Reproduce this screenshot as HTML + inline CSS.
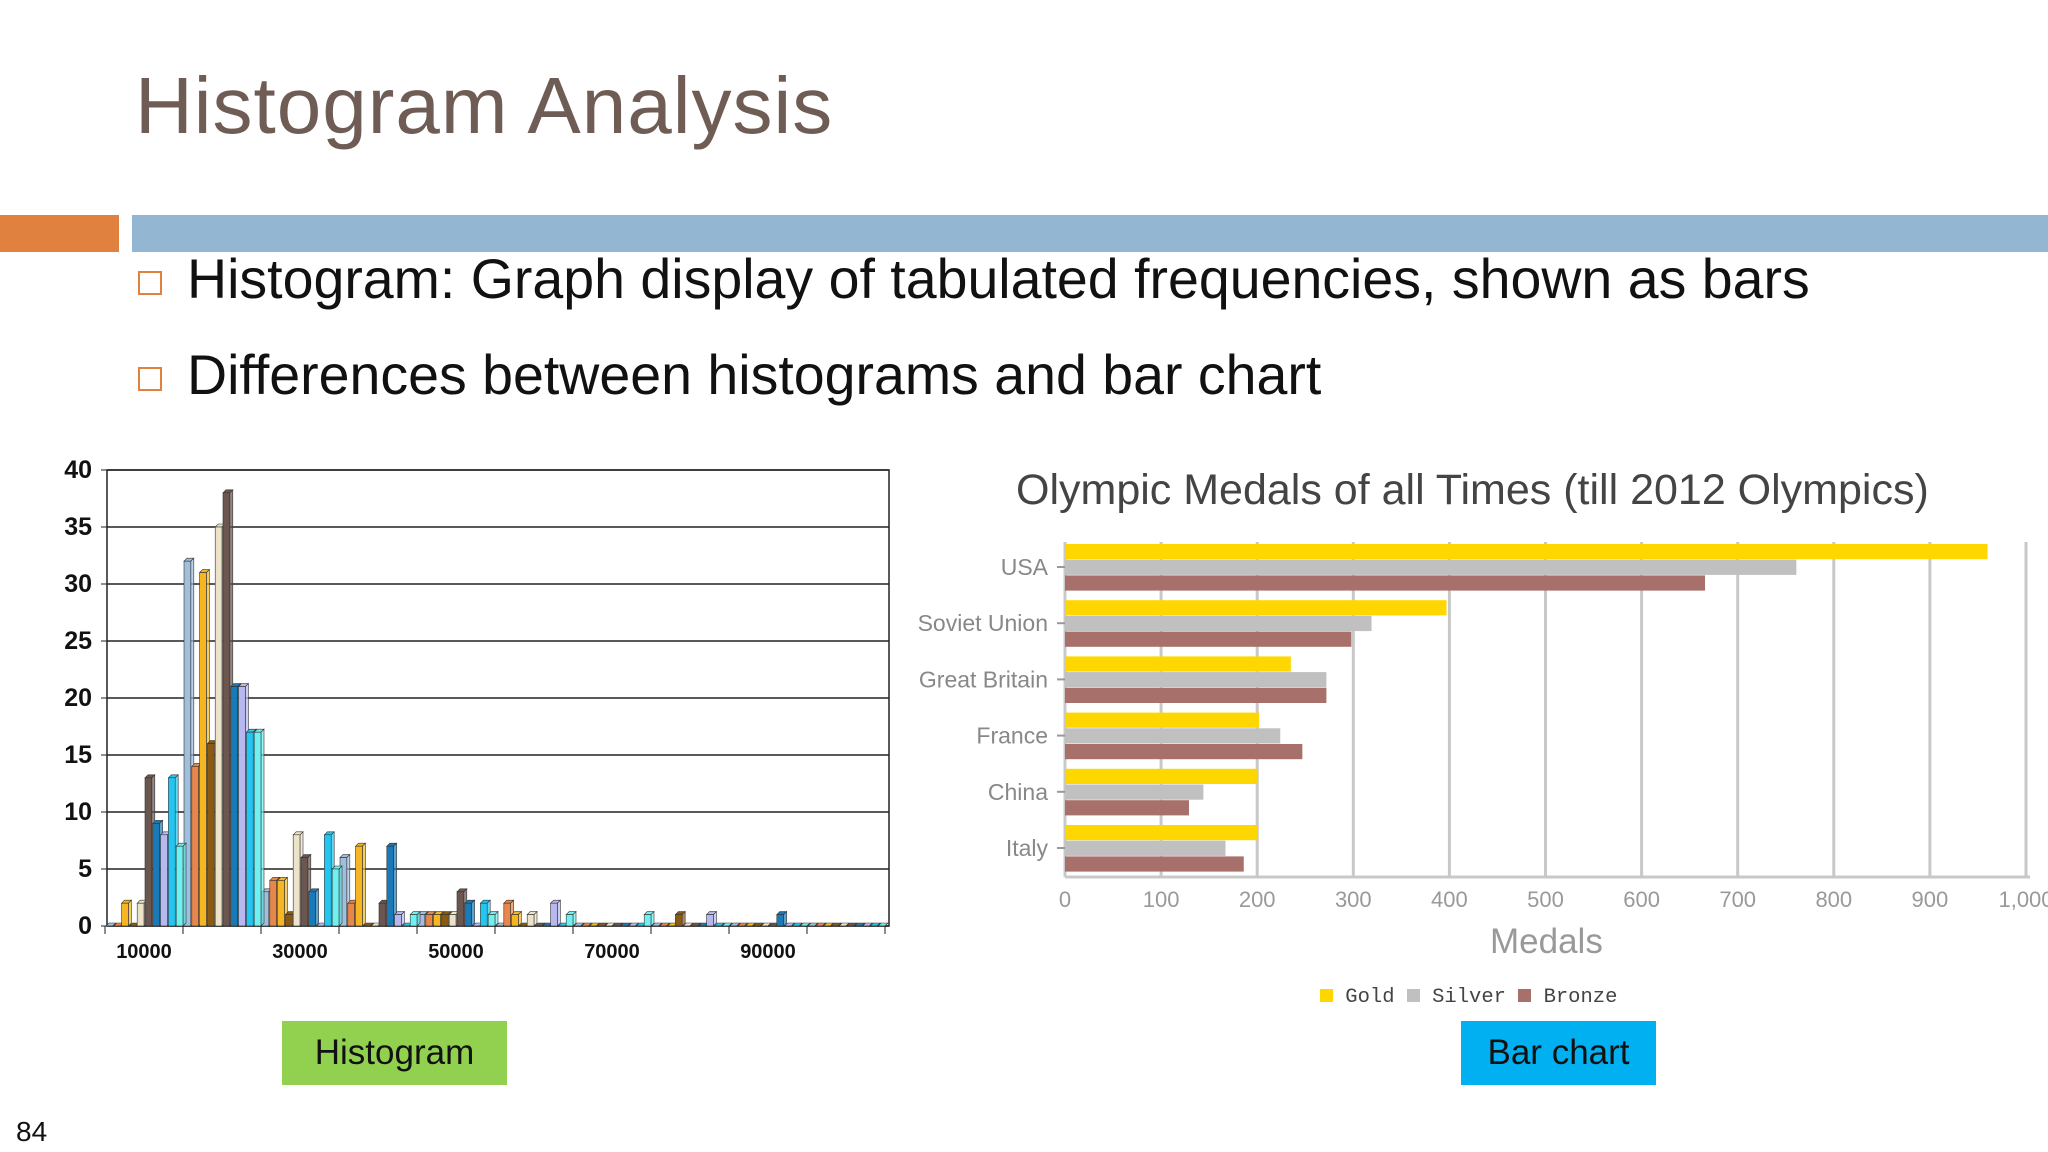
<!DOCTYPE html>
<html><head><meta charset="utf-8">
<style>
body{margin:0;width:2048px;height:1152px;background:#fff;position:relative;overflow:hidden;font-family:"Liberation Sans",sans-serif}
.abs{position:absolute}
</style></head><body>
<div class="abs" style="left:135px;top:60px;font-size:80px;color:#6f5d55;letter-spacing:1px">Histogram Analysis</div>
<div class="abs" style="left:0;top:215px;width:119px;height:37px;background:#e0813f"></div>
<div class="abs" style="left:132px;top:215px;width:1916px;height:37px;background:#93b7d2"></div>
<div class="abs" style="left:138px;top:247px;font-size:55.5px;color:#111;white-space:nowrap"><span style="display:inline-block;width:20px;height:20px;border:2px solid #e0813f;margin-right:25px;vertical-align:middle"></span>Histogram: Graph display of tabulated frequencies, shown as bars</div>
<div class="abs" style="left:138px;top:343px;font-size:55.5px;color:#111;white-space:nowrap"><span style="display:inline-block;width:20px;height:20px;border:2px solid #e0813f;margin-right:25px;vertical-align:middle"></span>Differences between histograms and bar chart</div>
<div class="abs" style="left:282px;top:1021px;width:225px;height:64px;background:#92d050;font-size:35px;line-height:64px;text-align:center;color:#111">Histogram</div>
<div class="abs" style="left:1461px;top:1021px;width:195px;height:64px;background:#00b0f0;font-size:35px;line-height:64px;text-align:center;color:#111">Bar chart</div>
<div class="abs" style="left:16px;top:1116px;font-size:28px;color:#111">84</div>
<svg id="hist" class="abs" style="left:0;top:0" width="2048" height="1152"></svg>
<script>
const histBins=["10000","20000","30000","40000","50000","60000","70000","80000","90000","100000"];
const histYTicks=[0,5,10,15,20,25,30,35,40];
const histColors=["#9fbfdc","#e8874a","#f5b622","#8b5a12","#ede3c8","#6b5650","#1a7ab8","#b8b8f0","#22c6f0","#70f0f0"];
const s0=[0,32,3,6,1,0,0,0,0,0];
const s1=[0,14,4,2,1,2,0,0,0,0];
const s2=[2,31,4,7,1,1,0,0,0,0];
const s3=[0,16,1,0,1,0,0,1,0,0];
const s4=[2,35,8,0,1,1,0,0,0,0];
const s5=[13,38,6,2,3,0,0,0,0,0];
const s6=[9,21,3,7,2,0,0,0,1,0];
const s7=[8,21,0,1,0,2,0,1,0,0];
const s8=[13,17,8,0,2,0,0,0,0,0];
const s9=[7,17,5,1,1,1,1,0,0,0];
const series=[s0,s1,s2,s3,s4,s5,s6,s7,s8,s9];
const NS="http://www.w3.org/2000/svg";
const svg=document.getElementById('hist');
function mk(t,a,p){const e=document.createElementNS(NS,t);for(const k in a)e.setAttribute(k,a[k]);(p||svg).appendChild(e);return e;}
const hx0=105,hx1=885,hy0=926,hy1=470;
const hY=v=>hy0-(v/40)*(hy0-hy1);
const gw=(hx1-hx0)/histBins.length;
const hX=(g,s)=>hx0+g*gw+s*gw/series.length;
mk('rect',{x:107,y:470,width:782,height:456,fill:'none',stroke:'#222','stroke-width':1.5});
histYTicks.forEach(t=>{
 const l=mk('line',{x1:107,x2:889,y1:hY(t),y2:hY(t),stroke:'#222','stroke-width':1.5});
 
 
 const tx=mk('text',{x:92,y:hY(t)+8,'text-anchor':'end','font-size':25,'font-weight':'bold',fill:'#111'});
 tx.textContent=t;
 
 
 mk('line',{x1:101,x2:107,y1:hY(t),y2:hY(t),stroke:'#222'});
});
histBins.forEach((b,g)=>{
 mk('line',{x1:hx0+g*gw,x2:hx0+g*gw,y1:926,y2:934,stroke:'#222'});
 if(g%2===0){
  const tx=mk('text',{x:hx0+g*gw+gw/2,y:958,'text-anchor':'middle','font-size':20,'font-weight':'bold',fill:'#111'});
  tx.textContent=b;
  
  
 }
});
mk('line',{x1:hx1,x2:hx1,y1:926,y2:934,stroke:'#222'});
const d=3,bw=gw/series.length-1;
series.forEach((ser,s)=>{
 ser.forEach((v,g)=>{
  const x=hX(g,s)+1,y=hY(v),h=hy0-y;
  const grp=mk('g',{});
  
  
  mk('polygon',{points:`${x},${y} ${x+d},${y-d} ${x+bw+d},${y-d} ${x+bw},${y}`,fill:histColors[s],stroke:'#333','stroke-width':0.6},grp);
  mk('polygon',{points:`${x+bw},${y} ${x+bw+d},${y-d} ${x+bw+d},${hy0-d} ${x+bw},${hy0}`,fill:histColors[s],stroke:'#333','stroke-width':0.6,'fill-opacity':0.7},grp);
  mk('rect',{x:x,y:y-0.01,width:bw,height:Math.max(h,0.01),fill:histColors[s],stroke:'#333','stroke-width':0.6},grp);
 });
});
</script>
<svg id="bars" class="abs" style="left:0;top:0" width="2048" height="1152"></svg>
<script>
const medalCountries=["USA","Soviet Union","Great Britain","France","China","Italy"];
const gold=[960,397,235,202,200,200];
const silver=[761,319,272,224,144,167];
const bronze=[666,298,272,247,129,186];
const xTicks=[0,100,200,300,400,500,600,700,800,900,1000];
const xTickLabels=["0","100","200","300","400","500","600","700","800","900","1,000"];
const svg2=document.getElementById('bars');
function mk2(t,a){const e=document.createElementNS("http://www.w3.org/2000/svg",t);for(const k in a)e.setAttribute(k,a[k]);svg2.appendChild(e);return e;}
const bx0=1065,bscale=0.961,by0=542,bandH=56.2;
const bX=v=>bx0+v*bscale;
xTicks.forEach((t,i)=>{
 const l=mk2('line',{x1:bX(t),x2:bX(t),y1:542,y2:877,stroke:'#c8c8c8','stroke-width':3});
 
 
 const tx=mk2('text',{x:bX(t),y:907,'text-anchor':'middle','font-size':22,fill:'#999'});
 tx.textContent=xTickLabels[i];
 
 
});
mk2('line',{x1:bx0,x2:2030,y1:877,y2:877,stroke:'#c8c8c8','stroke-width':3});
const colors3=["#ffd700","#c0c0c0","#a8706a"];
medalCountries.forEach((c,i)=>{
 const top=by0+i*bandH+2;
 [gold,silver,bronze].forEach((arr,k)=>{
  const r=mk2('rect',{x:bx0,y:top+k*15.7,width:arr[i]*bscale,height:15.2,fill:colors3[k]});
  
  
 });
 mk2('line',{x1:bx0-8,x2:bx0,y1:top+23,y2:top+23,stroke:'#999','stroke-width':2});
 const tx=mk2('text',{x:bx0-17,y:top+31,'text-anchor':'end','font-size':23,fill:'#888'});
 tx.textContent=c;
 
 
});
</script>
<div class="abs" style="left:1016px;top:466px;font-size:43px;color:#444;white-space:nowrap">Olympic Medals of all Times (till 2012 Olympics)</div>
<div class="abs" style="left:1490px;top:922px;font-size:35px;color:#999">Medals</div>
<div class="abs" style="left:1320px;top:986px;font-family:'Liberation Mono',monospace;font-size:20.5px;color:#444;white-space:nowrap">
<span><span style="display:inline-block;width:13px;height:13px;background:#ffd700"></span> Gold</span>
<span><span style="display:inline-block;width:13px;height:13px;background:#c0c0c0"></span> Silver</span>
<span><span style="display:inline-block;width:13px;height:13px;background:#a8706a"></span> Bronze</span>
</div>
</body></html>
